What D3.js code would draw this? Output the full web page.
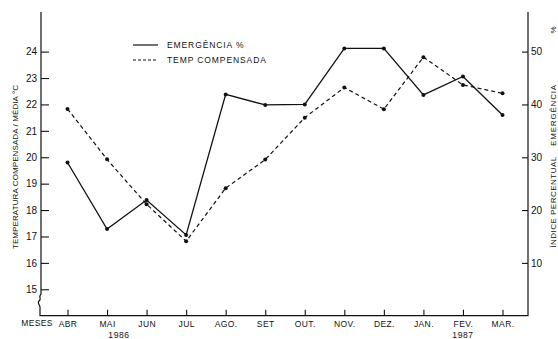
<!DOCTYPE html>
<html>
<head>
<meta charset="utf-8">
<script src="https://cdn.jsdelivr.net/npm/d3@7"></script>
<style>
  html, body { margin: 0; padding: 0; background: #fff; }
  svg { display: block; }
  text { font-family: "Liberation Sans", Arial, sans-serif; fill: #111; }
</style>
</head>
<body>
<svg id="chart" width="558" height="339"></svg>
<script>
// Months of the 1986/87 season
const months = ["ABR", "MAI", "JUN", "JUL", "AGO.", "SET", "OUT.", "NOV.", "DEZ.", "JAN.", "FEV.", "MAR."];

// Emergence index (%) — right axis
const emergencia = [29.0, 16.4, 21.9, 15.3, 41.9, 39.9, 40.0, 50.6, 50.6, 41.8, 45.3, 38.0];

// Compensated mean temperature (°C) — left axis
const tempCompensada = [21.83, 19.92, 18.22, 16.82, 18.83, 19.91, 21.5, 22.64, 21.82, 23.79, 22.74, 22.42];

const tempTicks = [15, 16, 17, 18, 19, 20, 21, 22, 23, 24];
const emergTicks = [10, 20, 30, 40, 50];

const svg = d3.select("#chart");
const ink = "#111";

const plotLeft = 41, plotRight = 528, plotTop = 12, plotBottom = 315.7;

const x = d3.scalePoint().domain(months).range([67.5, 502.5]);
const yL = d3.scaleLinear().domain([14, 25.5]).range([plotBottom, plotTop]);
const yR = d3.scaleLinear().domain([0, 57.5]).range([plotBottom, plotTop]);

// Frame: left axis with a break near the bottom, baseline and right axis
const frame = d3.path();
frame.moveTo(plotLeft, plotTop);
frame.lineTo(plotLeft, 294);
frame.bezierCurveTo(plotLeft - 3, 297, plotLeft + 1, 299, plotLeft - 2, 301);
frame.bezierCurveTo(plotLeft - 4, 303, plotLeft - 1, 305, plotLeft - 1, 307);
frame.lineTo(plotLeft - 1, plotBottom);
frame.lineTo(plotRight, plotBottom);
frame.lineTo(plotRight, plotTop);
svg.append("path").attr("d", frame.toString())
  .attr("fill", "none").attr("stroke", ink).attr("stroke-width", 1.2);

// Left axis (temperature)
const axL = svg.append("g").attr("transform", `translate(${plotLeft},0)`)
  .call(d3.axisLeft(yL).tickValues(tempTicks).tickSizeInner(-8).tickSizeOuter(0).tickPadding(4));
// Right axis (emergence)
const axR = svg.append("g").attr("transform", `translate(${plotRight},0)`)
  .call(d3.axisRight(yR).tickValues(emergTicks).tickSizeInner(-6).tickSizeOuter(0).tickPadding(3));
// Month axis
const axX = svg.append("g").attr("transform", `translate(0,${plotBottom})`)
  .call(d3.axisBottom(x).tickSizeInner(-6).tickSizeOuter(0).tickPadding(5));

[axL, axR, axX].forEach(g => {
  g.select(".domain").remove();
  g.selectAll(".tick line").attr("stroke", ink).attr("stroke-width", 1.1);
  g.selectAll(".tick text").attr("fill", ink)
    .style("font-family", "'Liberation Sans', Arial, sans-serif");
});
axL.selectAll(".tick text").style("font-size", "10px");
axR.selectAll(".tick text").style("font-size", "10px");
axX.selectAll(".tick text").style("font-size", "8.5px").style("letter-spacing", "0.4px");

// "MESES" heading of the month axis and the years
svg.append("text").attr("x", 37).attr("y", 326).attr("text-anchor", "middle")
  .style("font-size", "8.5px").style("letter-spacing", "0.3px").text("MESES");
svg.append("text").attr("x", 119).attr("y", 337.5).attr("text-anchor", "middle")
  .style("font-size", "8.5px").style("letter-spacing", "0.6px").text("1986");
svg.append("text").attr("x", 463).attr("y", 337.5).attr("text-anchor", "middle")
  .style("font-size", "8.5px").style("letter-spacing", "0.6px").text("1987");

// Axis titles
svg.append("text").attr("transform", "translate(18,167) rotate(-90)")
  .attr("text-anchor", "middle").style("font-size", "8px").style("letter-spacing", "0.1px")
  .text("TEMPERATURA  COMPENSADA / MÉDIA °C");
svg.append("text").attr("transform", "translate(555.5,202) rotate(-90)")
  .attr("text-anchor", "middle").style("font-size", "8px").style("letter-spacing", "0.5px")
  .text("ÍNDICE  PERCENTUAL");
svg.append("text").attr("transform", "translate(555.5,115) rotate(-90)")
  .attr("text-anchor", "middle").style("font-size", "8px").style("letter-spacing", "0.8px")
  .text("EMERGÊNCIA");
svg.append("text").attr("transform", "translate(555.5,30) rotate(-90)")
  .attr("text-anchor", "middle").style("font-size", "8px")
  .text("%");

// Series
const lineE = d3.line().x((d, i) => x(months[i])).y(d => yR(d));
const lineT = d3.line().x((d, i) => x(months[i])).y(d => yL(d));

svg.append("path").datum(tempCompensada).attr("d", lineT)
  .attr("fill", "none").attr("stroke", ink).attr("stroke-width", 1.2)
  .attr("stroke-dasharray", "4,3");
svg.append("path").datum(emergencia).attr("d", lineE)
  .attr("fill", "none").attr("stroke", ink).attr("stroke-width", 1.3);

svg.append("g").selectAll("circle").data(tempCompensada).join("circle")
  .attr("cx", (d, i) => x(months[i])).attr("cy", d => yL(d)).attr("r", 2).attr("fill", ink);
svg.append("g").selectAll("circle").data(emergencia).join("circle")
  .attr("cx", (d, i) => x(months[i])).attr("cy", d => yR(d)).attr("r", 2).attr("fill", ink);

// Legend
const legend = svg.append("g");
legend.append("line").attr("x1", 133).attr("x2", 158).attr("y1", 45).attr("y2", 45)
  .attr("stroke", ink).attr("stroke-width", 1.2);
legend.append("line").attr("x1", 133).attr("x2", 158).attr("y1", 60).attr("y2", 60)
  .attr("stroke", ink).attr("stroke-width", 1.2).attr("stroke-dasharray", "3,2");
legend.append("text").attr("x", 167).attr("y", 48).style("font-size", "8.5px")
  .style("letter-spacing", "0.9px").text("EMERGÊNCIA %");
legend.append("text").attr("x", 167).attr("y", 63).style("font-size", "8.5px")
  .style("letter-spacing", "0.9px").text("TEMP COMPENSADA");
</script>
</body>
</html>
